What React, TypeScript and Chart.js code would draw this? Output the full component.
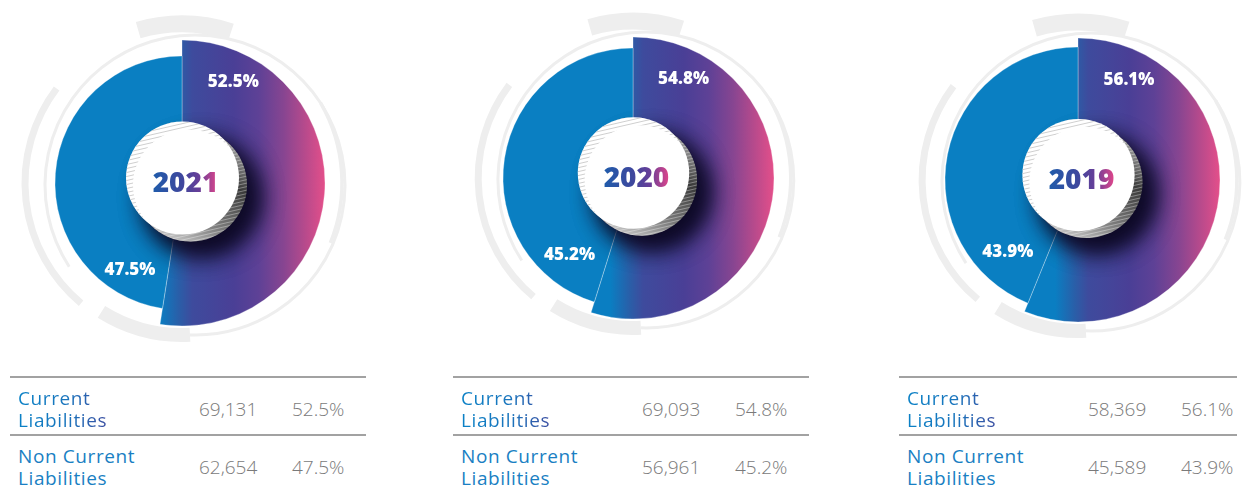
import React, { useEffect, useRef } from 'react';
import { Chart, registerables } from 'chart.js';

Chart.register(...registerables);

// ---------- data ----------
const years = ['2021', '2020', '2019'];
const categories = ['Current Liabilities', 'Non Current Liabilities'];
const categoryLines = [['Current', 'Liabilities'], ['Non Current', 'Liabilities']];
const currentLiabilities = [69131, 69093, 58369];
const nonCurrentLiabilities = [62654, 56961, 45589];
const currentShare = [52.5, 54.8, 56.1];
const nonCurrentShare = [47.5, 45.2, 43.9];

// ---------- layout / style ----------
const PANELS = [
  { cx: 182, cy: 183, r: 143, rBlue: 127, tableLeft: 10, tableWidth: 356 },
  { cx: 633, cy: 178, r: 141, rBlue: 130, tableLeft: 453, tableWidth: 356 },
  { cx: 1078, cy: 180, r: 142, rBlue: 133, tableLeft: 899, tableWidth: 338 },
];
const CANVAS = 360;
const DECO = '#eeeeee';
const BLUE = '#0a7fc2';
const FONT = '"Open Sans", "Noto Sans", sans-serif';
const DEG = Math.PI / 180;

function clockArc(ctx: CanvasRenderingContext2D, x: number, y: number, r: number, from: number, to: number, lw: number) {
  ctx.beginPath();
  ctx.lineWidth = lw;
  ctx.arc(x, y, r, (from - 90) * DEG, (to - 90) * DEG, false);
  ctx.stroke();
}

function hatch(ctx: CanvasRenderingContext2D, cx: number, cy: number, r: number, step: number, color: string, lw: number) {
  ctx.strokeStyle = color;
  ctx.lineWidth = lw;
  ctx.beginPath();
  for (let k = -r * 1.6; k <= r * 1.6; k += step) {
    ctx.moveTo(cx - r * 1.3, cy + k + r * 0.3);
    ctx.lineTo(cx + r * 1.3, cy + k - r * 0.3);
  }
  ctx.stroke();
}

function makePlugins(i: number) {
  const p = PANELS[i];
  const s = p.r / 143;

  const deco = {
    id: 'decoRings',
    beforeDatasetsDraw(chart: any) {
      const meta = chart.getDatasetMeta(0);
      const a = meta.data[0];
      if (!a) return;
      const ctx: CanvasRenderingContext2D = chart.ctx;
      const cx = a.x, cy = a.y;
      ctx.save();
      ctx.strokeStyle = DECO;
      ctx.lineCap = 'butt';
      clockArc(ctx, cx + 13 * s, cy + 2 * s, 150 * s, 237, 542, 3);
      clockArc(ctx, cx, cy, 160 * s, 60, 112, 3.5);
      clockArc(ctx, cx, cy, 157 * s, 220, 307, 7);
      clockArc(ctx, cx, cy, 159 * s, -16, 18, 17);
      clockArc(ctx, cx, cy, 152 * s, 177, 212, 14);
      ctx.restore();
      const b = meta.data[1];
      if (b) b.outerRadius = p.rBlue;
    },
  };

  const center = {
    id: 'centerDisc',
    afterDatasetsDraw(chart: any) {
      const meta = chart.getDatasetMeta(0);
      const a = meta.data[0];
      const b = meta.data[1];
      if (!a || !b) return;
      const ctx: CanvasRenderingContext2D = chart.ctx;
      const cx = a.x, cy = a.y;
      const fx = cx + 0.5 * s, fy = cy - 5 * s, fr = 56.5 * s;
      const rx = fx + 8 * s, ry = fy + 7 * s;

      // shadow (clipped to the ring so it only darkens the segments)
      ctx.save();
      ctx.beginPath();
      ctx.arc(cx, cy, a.outerRadius, 0, Math.PI * 2);
      ctx.clip();
      for (let k = 0; k < 2; k++) {
        ctx.shadowColor = 'rgba(14,10,38,0.95)';
        ctx.shadowBlur = 24 * s;
        ctx.shadowOffsetX = 11 * s;
        ctx.shadowOffsetY = 12 * s;
        ctx.fillStyle = '#1a1636';
        ctx.beginPath();
        ctx.arc(rx, ry, fr, 0, Math.PI * 2);
        ctx.fill();
      }
      ctx.restore();

      // rim
      ctx.save();
      const g = ctx.createLinearGradient(fx + fr, fy - fr, fx - fr * 0.3, fy + fr * 1.2);
      g.addColorStop(0, '#e6e6e6');
      g.addColorStop(0.4, '#3a3a3a');
      g.addColorStop(0.7, '#7a7a7a');
      g.addColorStop(1, '#d4d4d4');
      ctx.fillStyle = g;
      ctx.beginPath();
      ctx.arc(rx, ry, fr, 0, Math.PI * 2);
      ctx.fill();
      ctx.clip();
      hatch(ctx, rx, ry, fr, 3.5 * s, 'rgba(255,255,255,0.35)', 1);
      ctx.restore();

      // face
      ctx.save();
      ctx.fillStyle = '#ffffff';
      ctx.beginPath();
      ctx.arc(fx, fy, fr, 0, Math.PI * 2);
      ctx.fill();
      ctx.clip();
      ctx.beginPath();
      ctx.rect(fx - fr * 2, fy - fr * 2, fr * 4, fr * 4);
      ctx.arc(fx + 6 * s, fy + 7 * s, fr - 1 * s, 0, Math.PI * 2);
      ctx.clip('evenodd');
      hatch(ctx, fx, fy, fr, 4 * s, '#cfcfcf', 1);
      ctx.restore();

      // year
      ctx.save();
      ctx.font = `800 ${Math.round(28 * s)}px ${FONT}`;
      ctx.textAlign = 'center';
      ctx.textBaseline = 'middle';
      const text = years[i];
      const w = ctx.measureText(text).width;
      const tx = fx + 3 * s, ty = fy + 6 * s;
      const tg = ctx.createLinearGradient(tx - w / 2, 0, tx + w / 2, 0);
      tg.addColorStop(0, '#1f5cab');
      tg.addColorStop(0.45, '#3f479d');
      tg.addColorStop(0.72, '#6a3e98');
      tg.addColorStop(1, '#e2468a');
      ctx.fillStyle = tg;
      ctx.fillText(text, tx, ty);
      ctx.restore();

      // percent labels
      ctx.save();
      ctx.font = `800 ${Math.round(17 * s)}px ${FONT}`;
      ctx.textAlign = 'center';
      ctx.textBaseline = 'middle';
      ctx.fillStyle = '#ffffff';
      const la = a.startAngle + 27 * DEG;
      const lr = a.outerRadius * 0.79;
      ctx.fillText(`${currentShare[i].toFixed(1)}%`, a.x + lr * Math.cos(la), a.y + lr * Math.sin(la));
      const lb = b.startAngle + 22 * DEG;
      const lbr = a.outerRadius * 0.71;
      ctx.fillText(`${nonCurrentShare[i].toFixed(1)}%`, b.x + lbr * Math.cos(lb), b.y + lbr * Math.sin(lb));
      ctx.restore();
    },
  };
  return [deco, center];
}

function Donut({ i }: { i: number }) {
  const ref = useRef<HTMLCanvasElement>(null);
  const p = PANELS[i];
  useEffect(() => {
    if (!ref.current) return;
    const R = p.r;
    const fill = (c: any) => {
      if (c.dataIndex === 1) return BLUE;
      const chart = c.chart;
      const ca = chart.chartArea;
      if (!ca) return '#4a3f96';
      const x0 = (ca.left + ca.right) / 2;
      const g = chart.ctx.createLinearGradient(x0 - 0.16 * R, 0, x0 + R, 0);
      g.addColorStop(0, '#0a7ec2');
      g.addColorStop(0.12, '#2a5ea8');
      g.addColorStop(0.2, '#3e4b9d');
      g.addColorStop(0.45, '#4a3f96');
      g.addColorStop(0.6, '#5e4196');
      g.addColorStop(0.75, '#874591');
      g.addColorStop(0.88, '#b74a8c');
      g.addColorStop(1, '#e44f8a');
      return g;
    };
    const chart = new Chart(ref.current, {
      type: 'doughnut',
      data: {
        labels: categories,
        datasets: [
          {
            data: [currentLiabilities[i], nonCurrentLiabilities[i]],
            backgroundColor: fill,
            borderColor: 'rgba(255,255,255,0.3)',
            borderWidth: 1,
            hoverOffset: 0,
          },
        ],
      },
      options: {
        responsive: false,
        animation: false,
        radius: R,
        cutout: `${(45 / R) * 100}%`,
        rotation: 0,
        events: [],
        layout: { padding: 0 },
        plugins: { legend: { display: false }, tooltip: { enabled: false } },
      } as any,
      plugins: makePlugins(i) as any,
    });
    return () => chart.destroy();
  }, [i]);
  return (
    <canvas
      ref={ref}
      width={CANVAS}
      height={CANVAS}
      style={{ position: 'absolute', left: p.cx - CANVAS / 2, top: p.cy - CANVAS / 2, width: CANVAS, height: CANVAS }}
    />
  );
}

function Table({ i }: { i: number }) {
  const p = PANELS[i];
  const L = p.tableLeft;
  const W = p.tableWidth;
  const line = (top: number) => (
    <div style={{ position: 'absolute', left: L, top, width: W, height: 2, background: '#a2a2a2' }} />
  );
  const labelBase: React.CSSProperties = {
    position: 'absolute',
    left: L + 8,
    fontSize: 19,
    lineHeight: '22px',
    fontWeight: 400,
    letterSpacing: 0.6,
    whiteSpace: 'nowrap',
  };
  const numBase: React.CSSProperties = {
    position: 'absolute',
    fontSize: 19,
    lineHeight: '22px',
    fontWeight: 300,
    color: '#7a7a7a',
    whiteSpace: 'nowrap',
  };
  return (
    <>
      {line(376)}
      {line(434)}
      <div
        style={{
          ...labelBase,
          top: 387,
          background: 'linear-gradient(90deg, #0a81c6 0%, #1a75bd 55%, #3c4fa2 100%)',
          WebkitBackgroundClip: 'text',
          backgroundClip: 'text',
          color: 'transparent',
        }}
      >
        <div>{categoryLines[0][0]}</div>
        <div>{categoryLines[0][1]}</div>
      </div>
      <div style={{ ...labelBase, top: 445, color: '#1a7fc3' }}>
        <div>{categoryLines[1][0]}</div>
        <div>{categoryLines[1][1]}</div>
      </div>
      <div style={{ ...numBase, left: L + 189, top: 398 }}>{currentLiabilities[i].toLocaleString('en-US')}</div>
      <div style={{ ...numBase, left: L + 282, top: 398 }}>{`${currentShare[i].toFixed(1)}%`}</div>
      <div style={{ ...numBase, left: L + 189, top: 456 }}>{nonCurrentLiabilities[i].toLocaleString('en-US')}</div>
      <div style={{ ...numBase, left: L + 282, top: 456 }}>{`${nonCurrentShare[i].toFixed(1)}%`}</div>
    </>
  );
}

export default function App() {
  return (
    <div
      style={{
        position: 'absolute',
        left: 0,
        top: 0,
        width: 1243,
        height: 488,
        overflow: 'hidden',
        background: '#ffffff',
        fontFamily: FONT,
      }}
    >
      {years.map((_, i) => (
        <React.Fragment key={i}>
          <Donut i={i} />
          <Table i={i} />
        </React.Fragment>
      ))}
    </div>
  );
}
